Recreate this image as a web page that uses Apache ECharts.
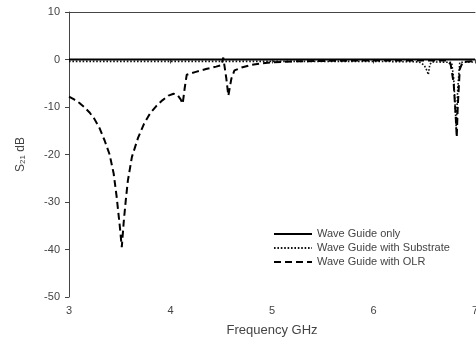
<!DOCTYPE html>
<html>
<head>
<meta charset="utf-8">
<script src="https://cdn.jsdelivr.net/npm/echarts@6/dist/echarts.min.js"></script>
<style>html,body{margin:0;padding:0;background:#fff}#c{width:476px;height:345px}</style>
</head>
<body>
<div id="c"></div>
<script>
var seriesNames = ['Wave Guide only', 'Wave Guide with Substrate', 'Wave Guide with OLR'];
var xTicks = [3, 4, 5, 6, 7];
var yTicks = [-50, -40, -30, -20, -10, 0, 10];

var freqOnly = [3.0, 4.0, 5.0, 6.0, 7.0];
var valsOnly = [0, 0, 0, 0, 0];

var freqSub = [3.0, 4.0, 5.0, 6.0, 6.45, 6.5, 6.53, 6.54, 6.555, 6.58, 6.77, 6.79, 6.805, 6.815, 6.83, 6.85, 7.0];
var valsSub = [-0.4, -0.4, -0.4, -0.4, -0.5, -1.2, -2.5, -3.2, -1.0, -0.5, -0.6, -4, -10, -14.5, -6, -0.6, -0.5];

var freqOLR = [3.0, 3.05, 3.1, 3.15, 3.2, 3.25, 3.3, 3.35, 3.4, 3.44, 3.47, 3.5, 3.52, 3.54, 3.56, 3.58, 3.62, 3.68, 3.74, 3.8, 3.86, 3.92, 3.98, 4.03, 4.07, 4.1, 4.12, 4.14, 4.16, 4.25, 4.35, 4.45, 4.5, 4.52, 4.55, 4.57, 4.6, 4.63, 4.7, 4.8, 4.9, 5.0, 5.2, 5.5, 6.0, 6.5, 6.72, 6.76, 6.79, 6.81, 6.82, 6.83, 6.85, 6.88, 7.0];
var valsOLR = [-7.8, -8.4, -9.1, -10.0, -11.1, -12.5, -14.4, -17.0, -20.0, -24.0, -29.0, -35.0, -39.5, -34.0, -29.5, -25.5, -20.5, -16.5, -13.5, -11.3, -9.8, -8.6, -7.6, -7.2, -7.5, -8.4, -9.3, -6.0, -3.2, -2.6, -2.0, -1.5, -1.2, 0.4, -4.0, -7.6, -4.0, -2.3, -1.7, -1.1, -0.8, -0.6, -0.4, -0.3, -0.2, -0.2, -0.2, -1.0, -5.0, -12.0, -16.4, -10.0, -2.0, -0.5, -0.3];

function pairs(xs, ys) { return xs.map(function (x, i) { return [x, ys[i]]; }); }

var font = 'Liberation Sans, Arial, sans-serif';
var chart = echarts.init(document.getElementById('c'), null, {renderer: 'canvas'});
chart.setOption({
  animation: false,
  backgroundColor: '#fff',
  grid: {left: 69, right: 1, top: 12, bottom: 48, containLabel: false, outerBoundsMode: 'none'},
  legend: {
    orient: 'vertical',
    left: 273, top: 228, padding: 0,
    itemWidth: 38, itemHeight: 12, itemGap: 2,
    itemStyle: {opacity: 0},
    textStyle: {fontFamily: font, fontSize: 11, color: '#444', lineHeight: 12},
    data: seriesNames
  },
  xAxis: [{
    type: 'value', min: xTicks[0], max: xTicks[xTicks.length - 1], interval: 1,
    name: 'Frequency GHz', nameLocation: 'middle', nameGap: 27,
    nameTextStyle: {fontFamily: font, fontSize: 13, color: '#444'},
    axisLine: {lineStyle: {color: '#444', width: 1}},
    axisTick: {show: true, length: 4, lineStyle: {color: '#444'}},
    axisLabel: {fontFamily: font, fontSize: 11, color: '#444', margin: 8},
    splitLine: {show: false}
  }, {
    type: 'value', position: 'top', min: 3, max: 7,
    axisLine: {show: true, onZero: false, lineStyle: {color: '#444', width: 1}},
    axisTick: {show: false}, axisLabel: {show: false}, splitLine: {show: false}
  }],
  yAxis: {
    type: 'value', min: yTicks[0], max: yTicks[yTicks.length - 1], interval: 10,
    name: '{s|S}{sub|21}{s| dB}', nameLocation: 'middle', nameGap: 42, nameRotate: 90,
    nameTextStyle: {rich: {
      s: {fontFamily: font, fontSize: 12, color: '#444'},
      sub: {fontFamily: font, fontSize: 8, color: '#444', verticalAlign: 'bottom', padding: [5, 0, 0, 0]}
    }},
    axisLine: {show: true, onZero: false, lineStyle: {color: '#444', width: 1}},
    axisTick: {show: true, length: 4, lineStyle: {color: '#444'}},
    axisLabel: {fontFamily: font, fontSize: 11, color: '#444', margin: 9},
    splitLine: {show: false}
  },
  series: [{
    name: seriesNames[0], type: 'line', symbol: 'none', z: 3,
    data: pairs(freqOnly, valsOnly),
    lineStyle: {color: '#000', width: 2, type: 'solid'},
    itemStyle: {color: '#000'}
  }, {
    name: seriesNames[1], type: 'line', symbol: 'none', z: 2,
    data: pairs(freqSub, valsSub),
    lineStyle: {color: '#111', width: 1.6, type: [1.6, 1.8]},
    itemStyle: {color: '#111'}
  }, {
    name: seriesNames[2], type: 'line', symbol: 'none', z: 4,
    data: pairs(freqOLR, valsOLR),
    lineStyle: {color: '#000', width: 2, type: [7, 4]},
    itemStyle: {color: '#000'}
  }]
});
</script>
</body>
</html>
